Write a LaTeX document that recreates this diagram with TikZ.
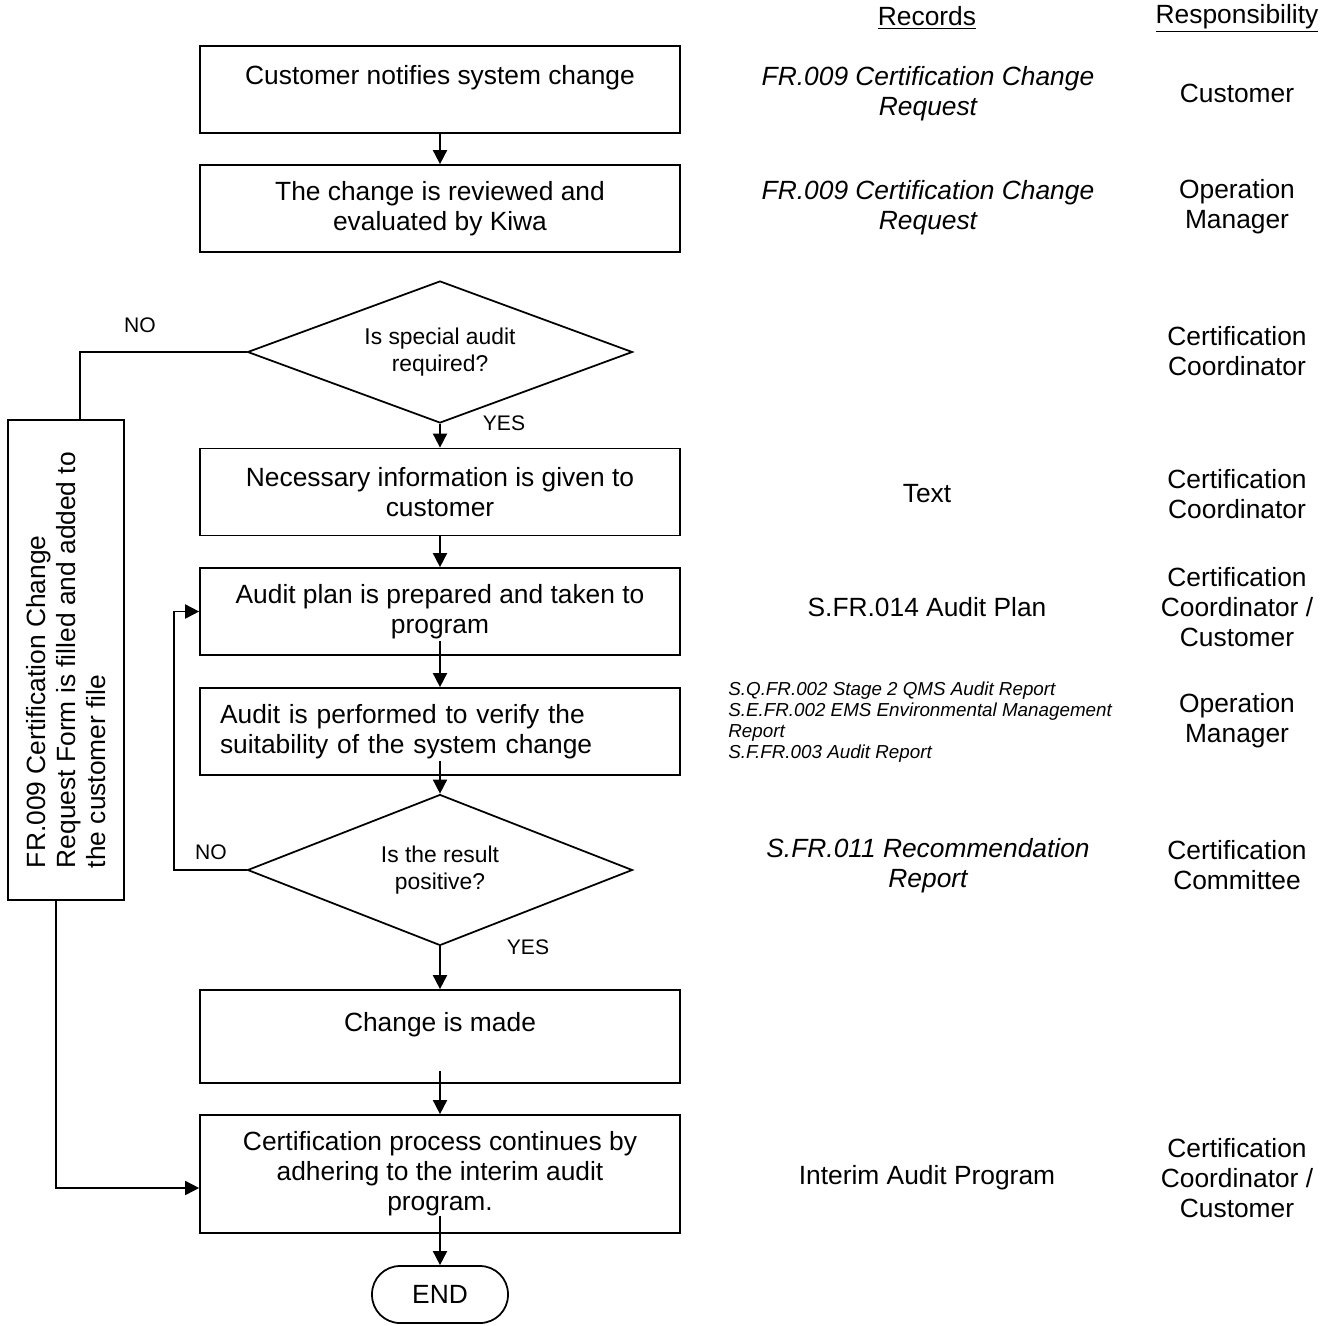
\documentclass[tikz,border=0pt]{standalone}
\usepackage{fontspec}
\setmainfont{Liberation Sans}
\usetikzlibrary{shapes.geometric, arrows.meta}

\begin{document}
\begin{tikzpicture}[x=0.02cm, y=-0.02cm]
		\tikzset{
			every node/.style={
				align=center,
				inner sep=0pt,
				font=\fontsize{15}{17}\selectfont
			},
			proc/.style={
				draw,
				line width=1pt,
				rectangle,
				minimum width=9.6cm,
				minimum height=1.74cm
			},
			decide/.style={
				draw,
				line width=1pt,
				diamond,
				aspect=2.7,
				minimum width=7.7cm,
				minimum height=2.9cm,
				font=\fontsize{13}{15.3}\selectfont
			},
			term/.style={
				draw,
				line width=1pt,
				rectangle,
				rounded corners=0.56cm,
				minimum width=2.72cm,
				minimum height=1.14cm
			},
			tag/.style={
				font=\fontsize{12}{14}\selectfont
			},
			rec/.style={
				font=\fontsize{15}{17}\selectfont\itshape
			},
			recsmall/.style={
				align=left,
				font=\fontsize{10.7}{12}\selectfont\itshape
			},
			line/.style={
				-{Triangle[length=8pt, width=8pt]},
				line width=1pt
			},
			plain/.style={
				line width=1pt
			}
		}

		\useasboundingbox (0, 0) rectangle (1328, 1325);

		% flow column
		\node[proc] (box1) at (440, 89.5)
			{Customer notifies system change\\ \mbox{}};
		\node[proc] (box2) at (440, 208.5)
			{The change is reviewed and\\ evaluated by Kiwa};
		\node[decide, minimum height=2.84cm] (d1) at (440, 352)
			{Is special audit\\ required?};
		\node[proc] (box3) at (440, 492)
			{Necessary information is given to\\ customer};
		\node[proc] (box4) at (440, 611.5)
			{Audit plan is prepared and taken to\\ program};
		\node[proc, align=left, text width=8.8cm] (box5) at (440, 731.5)
			{Audit is performed to verify the\\ suitability of the system change};
		\node[decide, minimum height=3.02cm] (d2) at (440, 870)
			{Is the result\\ positive?};
		\node[proc, minimum height=1.86cm] (box6) at (440, 1036.5)
			{Change is made\\ \mbox{}};
		\node[proc, minimum height=2.36cm] (box7) at (440, 1174)
			{Certification process continues by\\ adhering to the interim audit\\ program.};
		\node[term] (end) at (440, 1294.5)
			{END};

		% side form
		\node[proc, rotate=90, align=left, minimum width=9.6cm, minimum height=2.32cm] (form) at (66, 660)
			{FR.009 Certification Change\\ Request Form is filled and added to\\ the customer file};
		\coordinate (formtop) at (80, 420);
		\coordinate (formbot) at (56, 900);

		% labels
		\node[tag] (no1) at (140, 325) {NO};
		\node[tag] (yes1) at (504, 423) {YES};
		\node[tag] (no2) at (211, 852) {NO};
		\node[tag] (yes2) at (528, 947) {YES};

		% records
		\node (rechead) at (927, 18) {\underline{Records}};
		\node[rec] (rec1) at (928, 94) {FR.009 Certification Change\\ Request};
		\node[rec] (rec2) at (928, 208) {FR.009 Certification Change\\ Request};
		\node (rec3) at (927, 494) {Text};
		\node (rec4) at (927, 607) {S.FR.014 Audit Plan};
		\node[recsmall, anchor=west] (rec5) at (728, 722)
			{S.Q.FR.002 Stage 2 QMS Audit Report\\ S.E.FR.002 EMS Environmental Management\\ Report\\ S.F.FR.003 Audit Report};
		\node[rec] (rec6) at (928, 866) {S.FR.011 Recommendation\\ Report};
		\node (rec7) at (927, 1178) {Interim Audit Program};

		% responsibility
		\node (reshead) at (1237, 18) {\underline{Responsibility}};
		\node (res1) at (1237, 93) {Customer};
		\node (res2) at (1237, 207) {Operation\\ Manager};
		\node (res3) at (1237, 351) {Certification\\ Coordinator};
		\node (res4) at (1237, 494) {Certification\\ Coordinator};
		\node (res5) at (1237, 607) {Certification\\ Coordinator /\\ Customer};
		\node (res6) at (1237, 721) {Operation\\ Manager};
		\node (res7) at (1237, 865) {Certification\\ Committee};
		\node (res8) at (1237, 1178) {Certification\\ Coordinator /\\ Customer};

		% connectors
		\draw[line] (box1) -- (box2);
		\draw[line] (d1) -- (box3);
		\draw[line] (box3) -- (box4);
		\draw[line] ([yshift=0.3cm]box4.south) -- (box5);
		\draw[line] ([yshift=0.3cm]box5.south) -- (d2);
		\draw[line] (d2) -- (box6);
		\draw[line] ([yshift=0.26cm]box6.south) -- (box7);
		\draw[line] ([yshift=0.36cm]box7.south) -- (end);

		\draw[plain] (d1.west) -| (formtop);
		\draw[line] (formbot) |- ([yshift=-0.28cm]box7.west);
		\draw[line] (d2.west) -- ++(-73, 0) |- (box4.west);

	\end{tikzpicture}
\end{document}
